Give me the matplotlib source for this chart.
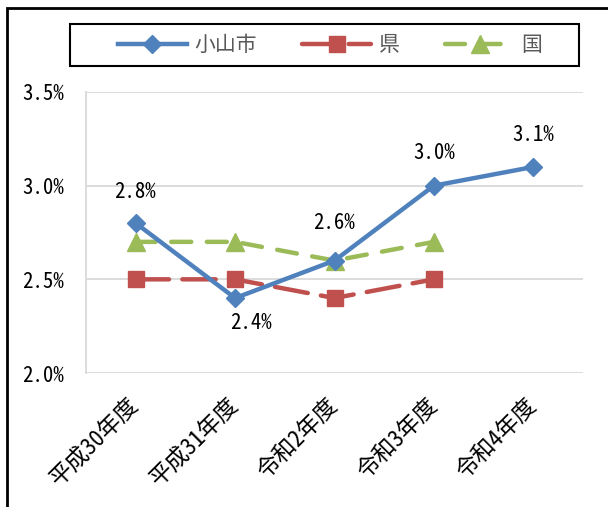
import matplotlib
matplotlib.use("Agg")
import matplotlib.pyplot as plt
from matplotlib.patches import Rectangle
from matplotlib.ticker import FuncFormatter
from matplotlib.transforms import ScaledTranslation

plt.rcParams['font.family'] = ['Noto Sans Mono CJK JP', 'Noto Sans CJK JP', 'DejaVu Sans']

categories = ['平成30年度', '平成31年度', '令和2年度', '令和3年度', '令和4年度']
oyama = [2.8, 2.4, 2.6, 3.0, 3.1]
ken = [2.5, 2.5, 2.4, 2.5]
kuni = [2.7, 2.7, 2.6, 2.7]
yticks = [2.0, 2.5, 3.0, 3.5]

fig = plt.figure(figsize=(6.08, 5.07), dpi=100)
W, H = 608, 507
ax = fig.add_axes([86 / W, 1 - 373 / H, (583 - 86) / W, (373 - 92) / H])

x = list(range(len(categories)))
ax.plot(x, oyama, color='#4F81BD', lw=3.2, marker='D', ms=9.5, label='小山市', zorder=5)
ax.plot(x[:len(ken)], ken, color='#C0504D', lw=3.2, ls=(0, (7.5, 3)), dash_capstyle='round',
        marker='s', ms=11.5, label='県', zorder=4)
ax.plot(x[:len(kuni)], kuni, color='#9BBB59', lw=3.2, ls=(0, (4.5, 3.5)), dash_capstyle='round',
        marker='^', ms=12.5, label='国', zorder=3)

ax.set_xlim(-0.5, len(categories) - 0.5)
ax.set_ylim(2.0, 3.5)
ax.set_yticks(yticks)
ax.yaxis.set_major_formatter(FuncFormatter(lambda v, p: f'{v:.1f}%'))
ax.set_xticks(x)
ax.set_xticklabels(categories, rotation=45, ha='right', va='center', rotation_mode='anchor', fontsize=16.5)
shift = ScaledTranslation(-6 / 100, 0, fig.dpi_scale_trans)
for lbl in ax.get_xticklabels():
    lbl.set_transform(lbl.get_transform() + shift)
ax.tick_params(axis='y', labelsize=15, length=0, pad=16)
ax.tick_params(axis='x', length=0, pad=21)
ax.grid(axis='y', color='#D9D9D9', lw=1.3)
ax.set_axisbelow(True)
for s in ['top', 'right', 'bottom']:
    ax.spines[s].set_visible(False)
ax.spines['left'].set_color('#D9D9D9')
ax.spines['left'].set_linewidth(1.3)

offsets = [(-0.01, 0.165), (0.16, -0.135), (-0.01, 0.2), (0.0, 0.176), (0.0, 0.17)]
for i, v in enumerate(oyama):
    dx, dy = offsets[i]
    ax.text(i + dx, v + dy, f'{v:.1f}%', ha='center', va='center', fontsize=15, color='black')

leg = ax.legend(loc='center', bbox_to_anchor=(330 / W, 1 - 45 / H), bbox_transform=fig.transFigure,
                ncol=3, frameon=False, fontsize=15, handlelength=3.3, handletextpad=0.35, columnspacing=2.2,
                borderpad=0.3, borderaxespad=0)
for t in leg.get_texts():
    t.set_color('#595959')

fig.patches.append(Rectangle((70 / W, 1 - 66 / H), (579 - 70) / W, 42 / H, transform=fig.transFigure,
                             fill=False, edgecolor='black', lw=1.5))
fig.patches.append(Rectangle((7 / W, -0.1), 1.2, 1 - 8 / H + 0.1, transform=fig.transFigure,
                             fill=False, edgecolor='black', lw=2))

fig.savefig('out.png', dpi=100)
